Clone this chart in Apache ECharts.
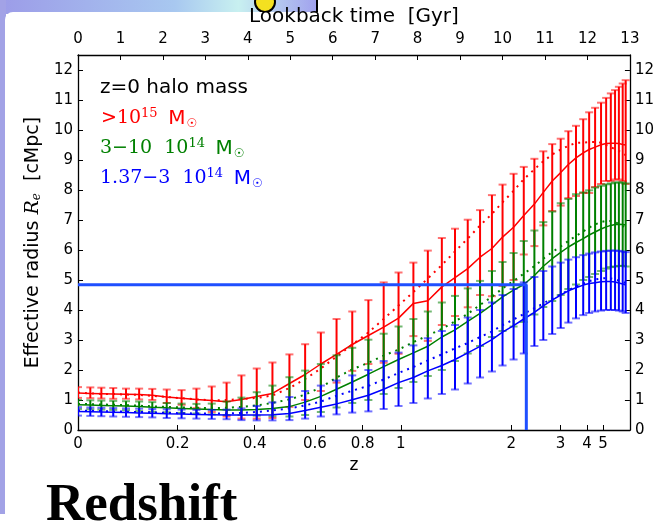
<!DOCTYPE html>
<html><head><meta charset="utf-8">
<script src="https://cdn.jsdelivr.net/npm/echarts@6/dist/echarts.min.js"></script>
<style>html,body{margin:0;padding:0;background:#fff}#c{width:657px;height:529px}</style>
</head><body><div id="c"></div>
<script>
// Snapshot lookback times [Gyr] (x positions of the error bars)
const lookbackGyr = [0.0,0.29,0.55,0.83,1.13,1.44,1.75,2.09,2.44,2.79,3.15,3.50,3.85,4.21,4.58,4.98,5.35,5.72,6.09,6.46,6.84,7.20,7.55,7.90,8.24,8.57,8.88,9.18,9.47,9.75,10.00,10.26,10.50,10.75,10.96,11.17,11.37,11.55,11.73,11.90,12.04,12.18,12.32,12.44,12.55,12.65,12.74,12.83,12.90];

// >1e15 Msun (red)
const redMean   = [1.23,1.22,1.21,1.20,1.19,1.18,1.16,1.10,1.06,1.02,0.98,0.94,1.02,1.12,1.22,1.55,1.85,2.20,2.52,2.85,3.15,3.43,3.73,4.22,4.31,4.77,5.08,5.38,5.76,6.05,6.43,6.76,7.15,7.53,7.92,8.30,8.58,8.85,9.07,9.24,9.35,9.43,9.51,9.55,9.56,9.56,9.55,9.52,9.50];
const redMedian = [1.25,1.22,1.20,1.20,1.18,1.17,1.14,1.10,1.06,1.02,0.99,1.00,1.03,1.07,1.15,1.40,1.70,2.05,2.45,2.85,3.25,3.70,4.15,4.60,5.05,5.50,5.95,6.38,6.82,7.20,7.59,7.97,8.36,8.69,8.96,9.18,9.35,9.47,9.57,9.58,9.60,9.60,9.58,9.50,9.43,9.36,9.30,9.24,9.16];
const redHigh   = [1.43,1.42,1.41,1.40,1.38,1.38,1.37,1.35,1.33,1.38,1.45,1.58,1.82,2.05,2.25,2.52,2.86,3.25,3.70,3.95,4.33,4.92,5.25,5.58,5.98,6.40,6.71,7.01,7.33,7.83,8.18,8.54,8.77,9.04,9.29,9.53,9.71,9.96,10.14,10.36,10.59,10.74,10.91,11.07,11.22,11.33,11.44,11.55,11.66];
const redLow    = [1.07,1.06,1.05,1.04,1.04,1.02,1.00,0.90,0.84,0.73,0.60,0.45,0.38,0.38,0.40,0.77,1.00,1.30,1.58,1.97,2.20,2.24,2.54,3.13,2.97,3.50,3.80,4.09,4.50,4.46,4.80,5.00,5.85,6.13,6.82,7.30,7.48,7.73,7.80,7.90,7.90,8.10,8.20,8.30,8.30,8.35,8.35,8.30,8.20];

// 3-10 1e14 Msun (green)
const greenMean   = [0.84,0.83,0.82,0.81,0.80,0.78,0.76,0.74,0.72,0.70,0.68,0.67,0.67,0.68,0.72,0.78,0.93,1.12,1.36,1.60,1.86,2.11,2.35,2.57,2.79,3.10,3.34,3.62,3.89,4.17,4.44,4.66,4.85,5.15,5.46,5.71,5.92,6.10,6.25,6.38,6.50,6.60,6.70,6.77,6.82,6.85,6.86,6.85,6.83];
const greenMedian = [0.87,0.86,0.85,0.84,0.83,0.81,0.79,0.77,0.75,0.74,0.73,0.74,0.77,0.82,0.90,1.02,1.18,1.42,1.75,2.02,2.24,2.48,2.68,2.93,3.15,3.37,3.62,3.87,4.17,4.44,4.72,4.97,5.21,5.46,5.71,5.93,6.12,6.30,6.47,6.62,6.75,6.85,6.93,6.97,6.97,6.93,6.87,6.80,6.72];
const greenHigh   = [1.00,0.99,0.98,0.97,0.96,0.95,0.93,0.90,0.88,0.87,0.88,0.95,1.08,1.26,1.48,1.76,1.98,2.20,2.49,2.74,3.01,3.21,3.45,3.70,3.95,4.25,4.47,4.72,4.97,5.30,5.60,5.90,6.30,6.65,6.93,7.28,7.56,7.70,7.86,7.92,7.99,8.08,8.14,8.19,8.22,8.25,8.25,8.25,8.22];
const greenLow    = [0.70,0.69,0.68,0.67,0.66,0.63,0.61,0.59,0.57,0.55,0.52,0.50,0.50,0.48,0.46,0.45,0.50,0.60,0.75,0.90,1.00,1.20,1.40,1.60,1.80,2.00,2.30,2.55,2.80,3.10,3.30,3.45,3.60,3.85,4.10,4.30,4.50,4.70,4.85,5.00,5.10,5.20,5.30,5.38,5.43,5.45,5.47,5.47,5.45];

// 1.37-3 1e14 Msun (blue)
const blueMean   = [0.62,0.61,0.60,0.59,0.58,0.57,0.56,0.54,0.53,0.52,0.51,0.50,0.50,0.50,0.51,0.55,0.65,0.76,0.87,1.01,1.16,1.36,1.58,1.75,1.97,2.15,2.35,2.57,2.79,3.01,3.26,3.48,3.70,3.92,4.14,4.33,4.50,4.64,4.74,4.83,4.88,4.91,4.94,4.95,4.95,4.93,4.90,4.87,4.83];
const blueMedian = [0.65,0.64,0.63,0.62,0.61,0.60,0.59,0.57,0.56,0.55,0.55,0.55,0.57,0.60,0.65,0.72,0.82,0.95,1.14,1.31,1.47,1.68,1.90,2.10,2.32,2.52,2.72,2.90,3.10,3.28,3.50,3.68,3.87,4.06,4.22,4.38,4.52,4.66,4.78,4.88,4.96,5.02,5.05,5.06,5.05,5.02,4.98,4.94,4.90];
const blueHigh   = [0.76,0.75,0.74,0.73,0.72,0.71,0.70,0.69,0.68,0.67,0.67,0.68,0.72,0.80,0.92,1.10,1.30,1.48,1.65,1.82,2.00,2.30,2.58,2.82,3.06,3.30,3.50,3.75,4.00,4.25,4.50,4.70,4.92,5.10,5.30,5.45,5.58,5.68,5.76,5.83,5.88,5.92,5.95,5.97,5.98,5.98,5.97,5.95,5.93];
const blueLow    = [0.48,0.47,0.46,0.45,0.44,0.43,0.42,0.40,0.39,0.38,0.37,0.36,0.33,0.32,0.32,0.33,0.38,0.45,0.52,0.58,0.62,0.70,0.80,0.90,1.05,1.20,1.35,1.55,1.75,1.95,2.15,2.35,2.55,2.80,3.00,3.20,3.40,3.58,3.72,3.83,3.90,3.95,3.98,4.00,4.00,4.00,3.98,3.95,3.90];

// Marker lines (blue guide): lookback time [Gyr], radius [cMpc]
const guideLine = [[0, 4.84], [10.56, 4.84], [10.56, 0]];

// Axis ticks
const zTickLabels = ['0','0.2','0.4','0.6','0.8','1','2','3','4','5'];
const zTickValues = [0,0.2,0.4,0.6,0.8,1,2,3,4,5];
const lookbackTicks = [0,1,2,3,4,5,6,7,8,9,10,11,12,13];
const radiusTicks = [0,1,2,3,4,5,6,7,8,9,10,11,12];

// cosmology (H0=73, Om=0.25, OL=0.75) to place redshift ticks on the lookback-time axis
function lookbackOf(z){
  const tH = 977.8/73, n = 400; let s = 0;
  for (let i=0;i<=n;i++){ const zz = z*i/n; const f = 1/((1+zz)*Math.sqrt(0.25*Math.pow(1+zz,3)+0.75));
    s += f*((i===0||i===n)?1:(i%2?4:2)); }
  return tH*s*(z/n)/3;
}
const zTickTimes = zTickValues.map(lookbackOf);

const chart = echarts.init(document.getElementById('c'), null, {renderer:'canvas'});
const FONT = 'DejaVu Sans';

function errSeries(name, color, lo, hi, z){
  return {
    name, type:'custom', xAxisIndex:0, yAxisIndex:0, clip:true, z,
    data: lookbackGyr.map((t,i)=>[t, lo[i], hi[i]]),
    renderItem(params, api){
      const x = api.value(0);
      const a = api.coord([x, api.value(1)]), b = api.coord([x, api.value(2)]);
      const hw = 4;
      return {type:'group', children:[
        {type:'line', shape:{x1:a[0],y1:a[1],x2:b[0],y2:b[1]}, style:{stroke:color,lineWidth:2}},
        {type:'line', shape:{x1:a[0]-hw,y1:a[1],x2:a[0]+hw,y2:a[1]}, style:{stroke:color,lineWidth:2,opacity:0.55}},
        {type:'line', shape:{x1:b[0]-hw,y1:b[1],x2:b[0]+hw,y2:b[1]}, style:{stroke:color,lineWidth:2,opacity:0.55}}
      ]};
    }
  };
}
function lineSeries(name, color, vals, dotted, z){
  return {
    name, type:'line', xAxisIndex:0, yAxisIndex:0, showSymbol:false, silent:true, z,
    data: lookbackGyr.map((t,i)=>[t, vals[i]]),
    lineStyle: dotted ? {color, width:2, type:[2,5]} : {color, width:1.5}
  };
}
function legendRich(color){
  return {
    m:{fontFamily:'DejaVu Serif', fontSize:19, fill:color},
    e:{fontFamily:'DejaVu Serif', fontSize:13, fill:color, verticalAlign:'top', padding:[0,0,10,0]},
    s:{fontSize:19},
    M:{fontFamily:FONT, fontSize:20, fill:color},
    o:{fontFamily:FONT, fontSize:12, fill:color, verticalAlign:'bottom', padding:[10,0,0,1]}
  };
}

const labelStyle = {color:'#000', fontFamily:FONT, fontSize:15};
chart.setOption({
  animation:false,
  backgroundColor:'#fff',
  grid:{left:78, top:55, width:552, height:375, show:false},
  xAxis:[
    {type:'value', position:'bottom', min:0, max:13,
     name:'z', nameLocation:'middle', nameGap:26, nameTextStyle:{color:'#000', fontFamily:FONT, fontSize:17},
     axisLine:{onZero:false, lineStyle:{color:'#000', width:1.3}},
     axisTick:{inside:true, length:5, lineStyle:{color:'#000'}, customValues:zTickTimes},
     axisLabel:Object.assign({margin:7, customValues:zTickTimes, formatter:(v)=>{
        for (let i=0;i<zTickTimes.length;i++) if (Math.abs(zTickTimes[i]-v)<1e-6) return zTickLabels[i];
        return '';}}, labelStyle),
     splitLine:{show:false}},
    {type:'value', position:'top', min:0, max:13, interval:1,
     name:'Lookback time  [Gyr]', nameLocation:'middle', nameGap:25, nameTextStyle:{color:'#000', fontFamily:FONT, fontSize:20},
     axisLine:{onZero:false, lineStyle:{color:'#000', width:1.3}},
     axisTick:{inside:true, length:5, lineStyle:{color:'#000'}},
     axisLabel:Object.assign({margin:8, customValues:lookbackTicks}, labelStyle),
     splitLine:{show:false}}
  ],
  yAxis:[
    {type:'value', position:'left', min:0, max:12.5,
     name:'{a|Effective radius }{i|R}{s|e}{a|  [cMpc]}', nameLocation:'middle', nameGap:28, nameRotate:90,
     nameTextStyle:{color:'#000', rich:{
       a:{fontFamily:FONT, fontSize:19, color:'#000'},
       i:{fontFamily:'DejaVu Serif', fontStyle:'italic', fontSize:19, color:'#000'},
       s:{fontFamily:'DejaVu Serif', fontStyle:'italic', fontSize:12, color:'#000', verticalAlign:'bottom', padding:[8,0,0,0]}}},
     axisLine:{onZero:false, lineStyle:{color:'#000', width:1.3}},
     axisTick:{inside:true, length:5, lineStyle:{color:'#000'}, customValues:radiusTicks},
     axisLabel:Object.assign({margin:5, customValues:radiusTicks}, labelStyle),
     splitLine:{show:false}},
    {type:'value', position:'right', min:0, max:12.5,
     axisLine:{onZero:false, lineStyle:{color:'#000', width:1.3}},
     axisTick:{inside:true, length:5, lineStyle:{color:'#000'}, customValues:radiusTicks},
     axisLabel:Object.assign({margin:5, customValues:radiusTicks}, labelStyle),
     splitLine:{show:false}}
  ],
  series:[
    errSeries('red err','#ff0000',redLow,redHigh,2),
    lineSeries('red mean','#ff0000',redMean,false,2),
    lineSeries('red median','#ff0000',redMedian,true,2),
    errSeries('green err','#008000',greenLow,greenHigh,3),
    lineSeries('green mean','#008000',greenMean,false,3),
    lineSeries('green median','#008000',greenMedian,true,3),
    errSeries('blue err','#0000ff',blueLow,blueHigh,4),
    lineSeries('blue mean','#0000ff',blueMean,false,4),
    lineSeries('blue median','#0000ff',blueMedian,true,4),
    {name:'guide', type:'line', xAxisIndex:0, yAxisIndex:0, showSymbol:false, silent:true, z:6,
     data:guideLine, lineStyle:{color:'#1f4fff', width:3}}
  ],
  graphic:[
    // slide background fragments
    {type:'rect', shape:{x:0,y:0,width:318,height:14}, z:-10,
     style:{fill:new echarts.graphic.LinearGradient(0,0,1,0,[{offset:0,color:'#9c9ce8'},{offset:0.55,color:'#a8c8f0'},{offset:0.75,color:'#c8f0f0'},{offset:1,color:'#a0a0ee'}])}},
    {type:'rect', shape:{x:316,y:0,width:2,height:14}, z:-9, style:{fill:'#000'}},
    {type:'circle', shape:{cx:265,cy:2,r:10}, z:-9, style:{fill:'#f4e020', stroke:'#000', lineWidth:2}},
    {type:'rect', shape:{x:0,y:0,width:6,height:514}, z:-10, style:{fill:'#a2a2e6'}},
    {type:'rect', shape:{x:5,y:12,width:660,height:520,r:8}, z:-8, style:{fill:'#fff'}},
    // legend text
    {type:'text', left:100, top:78, z:10, style:{text:'z=0 halo mass', font:'20px "DejaVu Sans"', fill:'#000'}},
    {type:'text', left:101, top:107, z:10, style:{text:'{m|>10}{e|15}{s|  }{M|M}{o|☉}', rich:legendRich('#ff0000')}},
    {type:'text', left:100, top:137, z:10, style:{text:'{m|3−10  10}{e|14}{s|  }{M|M}{o|☉}', rich:legendRich('#008000')}},
    {type:'text', left:100, top:167, z:10, style:{text:'{m|1.37−3  10}{e|14}{s|  }{M|M}{o|☉}', rich:legendRich('#0000ff')}},
    {type:'text', left:46, top:480, z:10, style:{text:'Redshift', font:'bold 53px "Liberation Serif"', fill:'#000'}}
  ]
});
</script></body></html>
